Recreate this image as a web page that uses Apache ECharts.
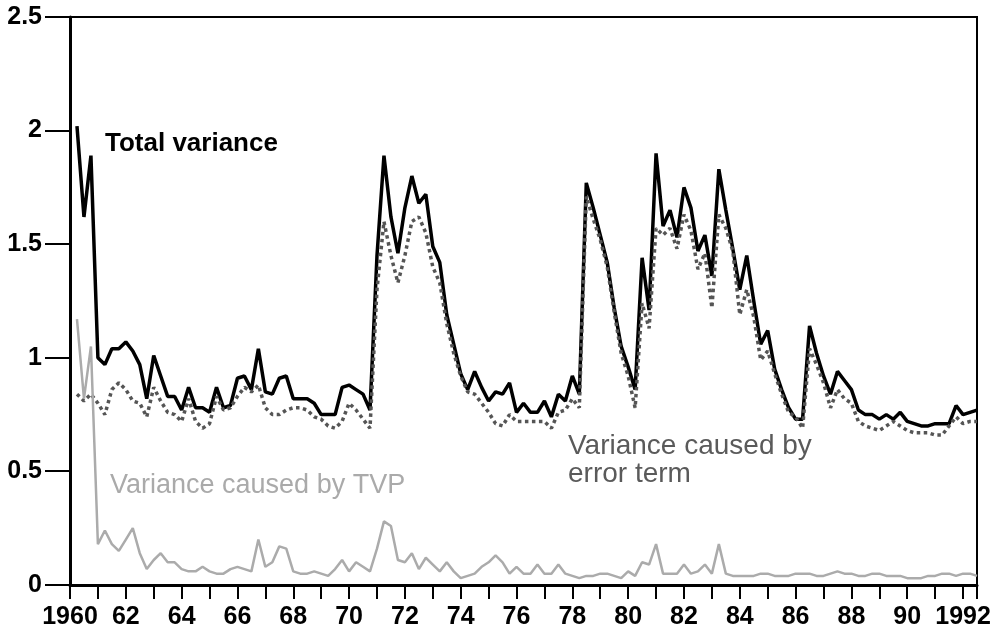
<!DOCTYPE html>
<html>
<head>
<meta charset="utf-8">
<script src="https://cdn.jsdelivr.net/npm/echarts@6/dist/echarts.min.js"></script>
<style>
html,body{margin:0;background:#fff}
#chart{width:1000px;height:634px}
</style>
</head>
<body>
<div id="chart"></div>
<script>
// quarterly series, first point 1960.25, step 0.25 year
const first_quarter = 1960.25;
const total_var = [
  2.02, 1.62, 1.89, 1.00, 0.97, 1.04, 1.04, 1.07, 1.03, 0.97,
  0.82, 1.01, 0.92, 0.83, 0.83, 0.77, 0.87, 0.78, 0.78, 0.76,
  0.87, 0.78, 0.79, 0.91, 0.92, 0.86, 1.04, 0.85, 0.84, 0.91,
  0.92, 0.82, 0.82, 0.82, 0.80, 0.75, 0.75, 0.75, 0.87, 0.88,
  0.86, 0.84, 0.77, 1.45, 1.89, 1.62, 1.46, 1.66, 1.80, 1.68,
  1.72, 1.49, 1.42, 1.19, 1.06, 0.93, 0.86, 0.94, 0.87, 0.81,
  0.85, 0.84, 0.89, 0.76, 0.80, 0.76, 0.76, 0.81, 0.74, 0.84,
  0.81, 0.92, 0.84, 1.77, 1.66, 1.54, 1.42, 1.22, 1.05, 0.96,
  0.86, 1.44, 1.21, 1.90, 1.58, 1.65, 1.53, 1.75, 1.66, 1.47,
  1.54, 1.36, 1.83, 1.65, 1.48, 1.30, 1.45, 1.25, 1.06, 1.12,
  0.95, 0.86, 0.78, 0.73, 0.73, 1.14, 1.02, 0.92, 0.84, 0.94,
  0.90, 0.86, 0.77, 0.75, 0.75, 0.73, 0.75, 0.73, 0.76, 0.72,
  0.71, 0.70, 0.70, 0.71, 0.71, 0.71, 0.79, 0.75, 0.76, 0.77
];
const error_var = [
  0.84, 0.81, 0.84, 0.80, 0.75, 0.86, 0.89, 0.86, 0.81, 0.80,
  0.74, 0.87, 0.81, 0.76, 0.75, 0.72, 0.82, 0.72, 0.69, 0.71,
  0.83, 0.77, 0.78, 0.83, 0.87, 0.85, 0.88, 0.78, 0.75, 0.75,
  0.77, 0.78, 0.78, 0.77, 0.74, 0.73, 0.70, 0.69, 0.72, 0.80,
  0.77, 0.73, 0.69, 1.30, 1.60, 1.45, 1.33, 1.45, 1.60, 1.62,
  1.55, 1.40, 1.33, 1.15, 1.02, 0.92, 0.85, 0.84, 0.80, 0.76,
  0.71, 0.70, 0.75, 0.72, 0.72, 0.72, 0.72, 0.72, 0.69, 0.76,
  0.77, 0.82, 0.78, 1.71, 1.61, 1.52, 1.40, 1.20, 1.02, 0.92,
  0.78, 1.24, 1.13, 1.57, 1.54, 1.57, 1.48, 1.63, 1.56, 1.39,
  1.46, 1.22, 1.63, 1.57, 1.47, 1.19, 1.30, 1.18, 0.99, 1.03,
  0.93, 0.84, 0.76, 0.74, 0.69, 1.04, 0.97, 0.89, 0.78, 0.86,
  0.82, 0.80, 0.72, 0.70, 0.69, 0.68, 0.70, 0.72, 0.70, 0.68,
  0.67, 0.67, 0.67, 0.66, 0.66, 0.70, 0.74, 0.71, 0.72, 0.72
];
const tvp_var = [
  1.17, 0.82, 1.05, 0.18, 0.24, 0.18, 0.15, 0.20, 0.25, 0.14,
  0.07, 0.11, 0.14, 0.10, 0.10, 0.07, 0.06, 0.06, 0.08, 0.06,
  0.05, 0.05, 0.07, 0.08, 0.07, 0.06, 0.20, 0.08, 0.10, 0.17,
  0.16, 0.06, 0.05, 0.05, 0.06, 0.05, 0.04, 0.07, 0.11, 0.06,
  0.10, 0.08, 0.06, 0.16, 0.28, 0.26, 0.11, 0.10, 0.14, 0.07,
  0.12, 0.09, 0.06, 0.10, 0.06, 0.03, 0.04, 0.05, 0.08, 0.10,
  0.13, 0.10, 0.05, 0.08, 0.05, 0.05, 0.09, 0.05, 0.05, 0.09,
  0.05, 0.04, 0.03, 0.04, 0.04, 0.05, 0.05, 0.04, 0.03, 0.06,
  0.04, 0.10, 0.09, 0.18, 0.05, 0.05, 0.05, 0.09, 0.05, 0.06,
  0.09, 0.05, 0.18, 0.05, 0.04, 0.04, 0.04, 0.04, 0.05, 0.05,
  0.04, 0.04, 0.04, 0.05, 0.05, 0.05, 0.04, 0.04, 0.05, 0.06,
  0.05, 0.05, 0.04, 0.04, 0.05, 0.05, 0.04, 0.04, 0.04, 0.03,
  0.03, 0.03, 0.04, 0.04, 0.05, 0.05, 0.04, 0.05, 0.05, 0.04
];
// labels for even years 1960..1992
const year_labels = ['1960','62','64','66','68','70','72','74','76','78','80','82','84','86','88','90','1992'];
const y_ticks = [0, 0.5, 1, 1.5, 2, 2.5];
const y_labels = ['0','0.5','1','1.5','2','2.5'];

const FONT = '"Liberation Sans", Arial, Helvetica, sans-serif';
const GRID = {left: 70, right: 23, top: 17, bottom: 49};

function toPairs(arr){
    return arr.map((v, i) => [first_quarter + i * 0.25, v]);
}

let chart = echarts.init(document.getElementById('chart'), null, {renderer: 'canvas'});
let labels = [
    {type: 'text', x: 105, y: 144, z: 10,
     style: {text: 'Total variance', fill: '#000', font: 'bold 26px ' + FONT, verticalAlign: 'middle'}},
    {type: 'text', x: 110, y: 486, z: 10,
     style: {text: 'Variance caused by TVP', fill: '#aaaaaa', font: '27px ' + FONT, verticalAlign: 'middle'}},
    {type: 'text', x: 568, y: 446, z: 10,
     style: {text: 'Variance caused by', fill: '#5a5a5a', font: '28px ' + FONT, verticalAlign: 'middle'}},
    {type: 'text', x: 568, y: 474, z: 10,
     style: {text: 'error term', fill: '#5a5a5a', font: '28px ' + FONT, verticalAlign: 'middle'}}
];
let option = {
    animation: false,
    backgroundColor: '#fff',
    grid: {
        left: GRID.left, right: GRID.right, top: GRID.top, bottom: GRID.bottom,
        show: true, borderColor: '#000', borderWidth: 2
    },
    xAxis: {
        type: 'value',
        min: 1960, max: 1992.5, interval: 1,
        splitLine: {show: false},
        axisLine: {show: true, lineStyle: {color: '#000', width: 3}},
        axisTick: {show: true, length: 14, lineStyle: {color: '#000', width: 2}},
        axisLabel: {
            color: '#000', fontSize: 25, fontWeight: 'bold', fontFamily: FONT, margin: 20,
            formatter: function(v){
                if (v % 2 !== 0) return '';
                return year_labels[(v - 1960) / 2] || '';
            }
        }
    },
    yAxis: {
        type: 'value',
        min: 0, max: 2.5, interval: 0.5,
        splitLine: {show: false},
        axisLine: {show: true, lineStyle: {color: '#000', width: 3}},
        axisTick: {show: false},
        axisLabel: {
            color: '#000', fontSize: 25, fontWeight: 'bold', fontFamily: FONT, margin: 28,
            formatter: function(v){
                return y_labels[Math.round(v / 0.5)];
            }
        }
    },
    series: [
        {
            name: 'Total variance', type: 'line', data: toPairs(total_var),
            showSymbol: false, z: 2,
            lineStyle: {color: '#000', width: 3.5}
        },
        {
            name: 'Variance caused by error term', type: 'line', data: toPairs(error_var),
            showSymbol: false, z: 3,
            lineStyle: {color: '#555', width: 3.5, type: [3.5, 3.5]}
        },
        {
            name: 'Variance caused by TVP', type: 'line', data: toPairs(tvp_var),
            showSymbol: false, z: 4,
            lineStyle: {color: '#ababab', width: 2.5}
        }
    ]
};
chart.setOption(option);

// y ticks as small rects placed at the axis' pixel positions
let tickRects = y_ticks.map(function(v){
    let p = chart.convertToPixel({gridIndex: 0}, [1960, v]);
    let y = (p && isFinite(p[1])) ? p[1]
        : GRID.top + (2.5 - v) / 2.5 * (634 - GRID.top - GRID.bottom);
    return {
        type: 'rect', z: 20, silent: true,
        shape: {x: 45, y: Math.round(y) - 1, width: 25, height: 2},
        style: {fill: '#000'}
    };
});
chart.setOption({graphic: {elements: labels.concat(tickRects)}});
</script>
</body>
</html>
